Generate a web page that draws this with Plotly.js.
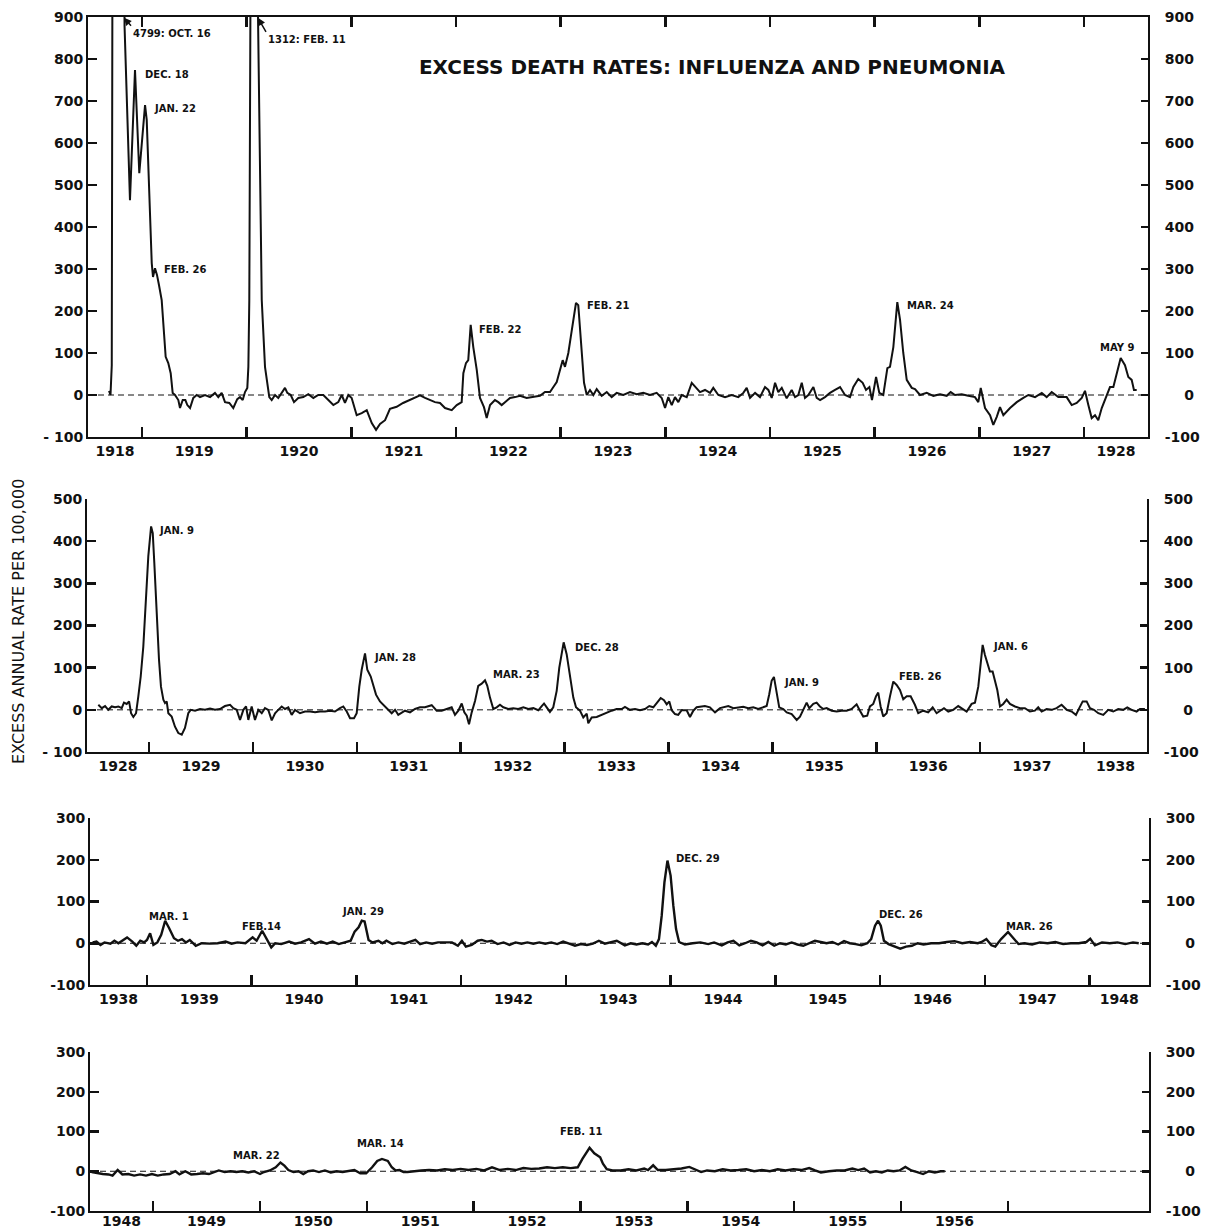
<!DOCTYPE html>
<html><head><meta charset="utf-8">
<script src="https://cdn.plot.ly/plotly-3.0.1.min.js"></script>
<style>html,body{margin:0;padding:0;background:#fff}#chart{width:1211px;height:1232px}</style>
</head><body><div id="chart"></div>
<script>
// ---------- DATA (decimal years, excess annual rate per 100,000) ----------
const p1Years = [
1918.685,1918.699,1918.711,1918.718,1918.737,1918.761,1918.790,1918.809,1918.833,1918.885,
1918.933,1918.974,1919.029,1919.045,1919.093,1919.105,1919.124,1919.143,1919.162,1919.188,
1919.226,1919.251,1919.274,1919.293,1919.315,1919.347,1919.363,1919.389,1919.414,1919.433,
1919.459,1919.490,1919.523,1919.554,1919.602,1919.650,1919.697,1919.729,1919.761,1919.793,
1919.834,1919.872,1919.910,1919.936,1919.962,1919.984,1920.006,1920.016,1920.025,1920.037,
1920.060,1920.084,1920.103,1920.144,1920.175,1920.191,1920.216,1920.239,1920.271,1920.302,
1920.335,1920.366,1920.388,1920.421,1920.452,1920.493,1920.541,1920.589,1920.637,1920.684,
1920.732,1920.780,1920.828,1920.875,1920.908,1920.939,1920.971,1921.003,1921.051,1921.099,
1921.147,1921.195,1921.236,1921.274,1921.322,1921.369,1921.433,1921.494,1921.551,1921.608,
1921.656,1921.704,1921.752,1921.799,1921.847,1921.895,1921.959,1922.007,1922.054,1922.070,
1922.095,1922.117,1922.140,1922.165,1922.198,1922.229,1922.267,1922.293,1922.325,1922.372,
1922.404,1922.436,1922.468,1922.516,1922.564,1922.611,1922.675,1922.738,1922.802,1922.850,
1922.898,1922.930,1922.962,1922.994,1923.019,1923.041,1923.073,1923.096,1923.121,1923.146,
1923.168,1923.191,1923.223,1923.249,1923.280,1923.312,1923.344,1923.392,1923.440,1923.487,
1923.535,1923.598,1923.662,1923.726,1923.789,1923.853,1923.917,1923.965,1923.997,1924.028,
1924.061,1924.092,1924.124,1924.156,1924.204,1924.252,1924.293,1924.331,1924.379,1924.427,
1924.458,1924.506,1924.570,1924.634,1924.697,1924.745,1924.777,1924.809,1924.857,1924.904,
1924.952,1924.984,1925.016,1925.048,1925.079,1925.112,1925.159,1925.207,1925.239,1925.270,
1925.303,1925.334,1925.366,1925.414,1925.446,1925.478,1925.525,1925.573,1925.621,1925.669,
1925.716,1925.764,1925.796,1925.843,1925.885,1925.917,1925.949,1925.974,1926.013,1926.044,
1926.082,1926.121,1926.146,1926.178,1926.216,1926.242,1926.273,1926.306,1926.354,1926.385,
1926.433,1926.497,1926.560,1926.624,1926.688,1926.726,1926.767,1926.831,1926.894,1926.958,
1926.990,1927.013,1927.054,1927.102,1927.133,1927.166,1927.197,1927.229,1927.293,1927.357,
1927.420,1927.468,1927.532,1927.596,1927.643,1927.691,1927.754,1927.834,1927.882,1927.930,
1927.978,1928.009,1928.041,1928.073,1928.105,1928.136,1928.169,1928.217,1928.248,1928.280,
1928.312,1928.350,1928.391,1928.423,1928.455,1928.477,1928.503];
const p1Rates = [
10,0,70,1100,2600,4000,4799,2400,880,464,
774,528,690,655,314,281,302,286,262,226,
91,76,52,5,0,-12,-31,-12,-12,-24,
-31,-7,0,-5,0,-5,5,-5,5,-17,
-19,-31,-10,-5,-12,7,17,67,226,1000,
1200,1312,1000,226,67,40,-5,-12,0,-7,
5,17,5,0,-17,-7,-5,2,-7,0,
0,-12,-24,-17,0,-19,0,-7,-48,-43,
-36,-67,-83,-69,-60,-33,-28,-19,-12,-6,
-1,-7,-12,-17,-19,-31,-36,-24,-17,52,
76,83,167,114,60,-7,-29,-55,-24,-12,
-17,-24,-17,-7,-5,-2,-7,-5,-2,7,
7,19,31,60,83,67,100,138,179,219,
214,131,29,0,12,0,14,-2,7,-5,
5,0,7,2,5,0,5,-7,-31,-5,
-24,-5,-17,0,-5,29,17,7,12,5,
17,0,-5,0,-5,5,17,-7,5,-5,
19,12,-7,29,7,17,-8,12,-5,0,
29,-7,0,19,-7,-12,-5,5,12,19,
0,-5,19,38,29,12,19,-12,43,5,
0,64,67,114,221,179,100,36,17,14,
0,5,-2,2,-2,7,0,2,-2,-5,
-17,17,-31,-48,-71,-52,-29,-48,-31,-17,
-7,0,-5,5,-5,7,-5,-5,-24,-19,
-7,10,-24,-55,-48,-60,-31,0,19,19,
48,88,71,43,36,12,12];

const p2Years = [
1928.512,1928.545,1928.577,1928.608,1928.641,1928.673,1928.705,1928.737,1928.759,1928.785,
1928.808,1928.827,1928.849,1928.875,1928.897,1928.920,1928.945,1928.971,1928.993,1929.020,
1929.036,1929.051,1929.074,1929.096,1929.115,1929.138,1929.154,1929.170,1929.186,1929.218,
1929.250,1929.282,1929.315,1929.346,1929.378,1929.401,1929.443,1929.491,1929.539,1929.587,
1929.635,1929.683,1929.731,1929.780,1929.811,1929.844,1929.876,1929.908,1929.934,1929.956,
1929.988,1930.020,1930.052,1930.085,1930.116,1930.148,1930.181,1930.213,1930.244,1930.277,
1930.309,1930.341,1930.373,1930.405,1930.453,1930.501,1930.550,1930.598,1930.646,1930.694,
1930.742,1930.790,1930.838,1930.870,1930.903,1930.935,1930.973,1930.999,1931.024,1931.047,
1931.079,1931.101,1931.134,1931.166,1931.185,1931.223,1931.271,1931.303,1931.336,1931.368,
1931.399,
1931.464,1931.512,1931.560,1931.608,1931.656,1931.721,1931.769,1931.817,1931.865,1931.913,
1931.945,1931.977,1932.010,1932.035,1932.058,1932.080,1932.106,1932.138,1932.169,1932.202,
1932.234,1932.256,1932.282,1932.314,1932.346,1932.378,1932.410,1932.458,1932.506,1932.554,
1932.603,1932.651,1932.699,1932.747,1932.780,1932.802,1932.828,1932.859,1932.891,1932.924,
1932.949,1932.975,1932.991,1933.020,1933.052,1933.084,1933.110,1933.148,1933.180,1933.213,
1933.228,1933.261,1933.309,1933.357,1933.405,1933.453,1933.501,1933.550,1933.581,1933.629,
1933.678,1933.726,1933.774,1933.815,1933.854,1933.886,1933.925,1933.957,1933.983,1934.008,
1934.031,1934.063,1934.094,1934.127,1934.175,1934.207,1934.239,1934.271,1934.303,1934.351,
1934.399,1934.448,1934.496,1934.544,1934.576,1934.624,1934.672,1934.720,1934.768,1934.816,
1934.864,1934.912,1934.945,1934.970,1934.993,1935.015,1935.041,1935.066,1935.105,1935.138,
1935.186,
1935.234,1935.266,1935.297,1935.330,1935.355,1935.394,1935.426,1935.458,1935.490,1935.523,
1935.571,1935.619,1935.667,1935.715,1935.763,1935.811,1935.843,1935.875,1935.913,1935.939,
1935.971,1935.997,1936.019,1936.042,1936.067,1936.100,1936.132,1936.164,1936.196,1936.228,
1936.260,1936.293,1936.331,1936.372,1936.404,1936.452,1936.500,1936.543,1936.581,1936.613,
1936.652,1936.693,1936.741,1936.789,1936.822,1936.870,1936.918,1936.950,1936.982,1937.005,
1937.024,1937.046,1937.068,1937.094,1937.120,1937.142,1937.165,1937.191,1937.222,1937.255,
1937.287,1937.335,1937.383,1937.431,1937.479,1937.527,1937.559,1937.592,1937.640,1937.688,
1937.736,1937.784,1937.833,1937.881,1937.922,1937.954,1937.987,1938.025,1938.057,1938.095,
1938.137,1938.185,1938.233,1938.281,1938.329,1938.377,1938.416,1938.458,1938.506,1938.538,
1938.586];
const p2Rates = [
12,4,9,0,8,6,8,4,17,14,
20,-8,-17,-8,32,79,150,253,364,435,
419,348,229,119,55,24,16,20,-8,-16,
-40,-55,-59,-43,-8,0,-2,2,0,3,
0,2,9,12,4,0,-24,0,8,-24,
8,-24,0,-8,4,0,-25,-8,0,8,
2,6,-12,0,-8,-4,-4,-6,-4,-4,
-2,-4,4,8,-4,-20,-20,-8,55,95,
134,95,79,55,36,20,8,0,-8,0,
-12,
-2,-6,2,6,6,11,-2,-2,2,6,
-12,-2,15,-6,-14,-34,-6,21,57,62,
70,57,29,2,6,12,6,2,4,2,
6,2,4,-1,9,15,6,-5,6,45,
100,140,160,132,77,29,6,-2,-18,-9,
-32,-18,-17,-12,-6,-2,2,2,7,0,
2,-1,2,9,6,15,28,23,13,20,
-1,-10,-12,-1,-1,-17,-2,6,7,9,
6,-6,4,6,9,4,6,7,4,6,
2,6,9,37,69,78,45,6,2,-6,
-10,
-24,-16,0,17,4,14,17,8,2,4,
-2,-4,-2,-2,2,13,-2,-16,-14,8,
14,32,41,8,-16,-8,32,67,59,47,
25,32,32,12,-8,-2,-6,6,-8,-2,
4,-4,0,9,4,-4,14,17,55,115,
154,130,111,91,91,71,47,8,14,24,
14,8,4,4,-4,-2,6,-4,2,0,
4,12,0,-4,-12,4,20,20,4,0,
-8,-12,0,-4,2,0,6,0,-4,2,
2];

const p3Years = [
1938.481,1938.518,1938.556,1938.594,1938.651,1938.689,1938.727,1938.773,1938.810,1938.860,
1938.898,1938.936,1938.973,1939.000,1939.030,1939.061,1939.099,1939.136,1939.174,1939.212,
1939.258,1939.296,1939.334,1939.372,1939.409,1939.466,1939.523,1939.599,1939.675,1939.751,
1939.808,1939.864,1939.940,1940.009,1940.047,1940.100,1940.137,1940.187,1940.225,1940.282,
1940.357,1940.414,1940.471,1940.547,1940.604,1940.661,1940.718,1940.774,1940.831,1940.888,
1940.945,1940.983,1941.021,1941.051,1941.078,1941.116,1941.154,1941.210,1941.248,1941.286,
1941.343,1941.400,1941.457,1941.514,1941.563,1941.608,1941.665,1941.722,1941.779,1941.836,
1941.912,1941.969,1942.007,1942.045,1942.101,1942.158,1942.196,1942.246,1942.291,1942.348,
1942.405,1942.462,1942.519,1942.576,1942.632,1942.689,1942.746,1942.803,1942.860,1942.917,
1942.974,1943.031,1943.087,1943.144,1943.201,1943.258,1943.315,1943.372,1943.429,1943.486,
1943.563,1943.619,1943.674,1943.730,1943.785,1943.822,1943.859,1943.889,1943.915,1943.941,
1943.970,1944.000,1944.026,1944.052,1944.081,1944.137,1944.211,1944.285,1944.359,1944.415,
1944.489,1944.544,1944.600,1944.656,1944.711,1944.767,1944.822,1944.878,1944.933,1944.989,
1945.044,1945.100,1945.156,1945.211,1945.267,1945.322,1945.378,1945.433,1945.489,1945.544,
1945.600,1945.656,1945.711,1945.767,1945.822,1945.878,1945.915,1945.952,1945.981,1946.007,
1946.037,1946.081,1946.137,1946.193,1946.248,1946.304,1946.359,1946.415,1946.489,1946.563,
1946.637,1946.711,1946.785,1946.859,1946.933,1946.970,1947.015,1947.063,1947.100,1947.156,
1947.222,1947.267,1947.322,1947.378,1947.452,1947.526,1947.600,1947.674,1947.748,1947.822,
1947.896,1947.970,1948.007,1948.052,1948.119,1948.193,1948.267,1948.341,1948.415,1948.470];
const p3Rates = [
2,4,-4,2,-1,6,0,8,14,4,
-6,6,2,8,24,-4,2,20,54,36,
12,6,10,2,8,-6,0,-1,0,4,
-1,2,0,14,6,30,12,-10,0,-2,
4,-1,2,10,-1,4,-1,4,-2,2,
6,28,38,54,52,8,2,6,0,6,
-2,2,-1,4,8,-2,2,-1,2,2,
2,-6,6,-8,-4,6,8,4,6,-2,
2,-4,2,-1,2,-1,2,-1,2,-2,
4,-1,-6,-2,-4,-1,6,-1,2,6,
-5,0,-3,0,-3,3,-6,10,66,146,
198,162,90,34,3,-3,0,2,-2,2,
-5,2,6,-5,0,6,2,-5,3,-6,
0,-3,2,-3,-6,0,6,3,0,3,
-3,5,0,-2,-5,0,10,42,54,42,
6,-2,-8,-13,-8,-6,0,-3,0,0,
3,5,0,3,0,3,10,-5,-8,10,
27,14,-2,0,-3,2,0,3,-2,0,
0,3,11,-5,2,0,2,-2,2,0];

const p4Years = [
1948.426,1948.474,1948.529,1948.584,1948.621,1948.669,1948.713,1948.768,1948.823,1948.879,
1948.934,1948.989,1949.044,1949.099,1949.155,1949.210,1949.247,1949.302,1949.357,1949.412,
1949.467,1949.523,1949.578,1949.615,1949.670,1949.725,1949.780,1949.835,1949.891,1949.946,
1950.001,1950.038,1950.093,1950.148,1950.192,1950.229,1950.266,1950.314,1950.362,1950.406,
1950.450,1950.498,1950.553,1950.608,1950.663,1950.718,1950.774,1950.829,1950.884,1950.939,
1950.994,1951.050,1951.098,1951.142,1951.197,1951.234,1951.270,1951.307,1951.344,1951.381,
1951.436,1951.510,1951.583,1951.657,1951.730,1951.804,1951.878,1951.951,1952.025,1952.098,
1952.172,1952.245,1952.319,1952.393,1952.466,1952.540,1952.613,1952.687,1952.760,1952.834,
1952.908,1952.974,1953.018,1953.085,1953.129,1953.184,1953.210,1953.246,1953.301,1953.375,
1953.449,1953.522,1953.596,1953.632,1953.680,1953.724,1953.798,1953.871,1953.945,1954.018,
1954.074,1954.129,1954.184,1954.257,1954.331,1954.404,1954.478,1954.551,1954.625,1954.699,
1954.772,1954.846,1954.919,1954.993,1955.066,1955.140,1955.195,1955.250,1955.324,1955.397,
1955.471,1955.544,1955.599,1955.654,1955.710,1955.765,1955.820,1955.875,1955.930,1955.985,
1956.040,1956.096,1956.151,1956.206,1956.261,1956.316,1956.371,1956.408];
const p4Rates = [
-2,-5,-7,-8,-11,3,-8,-7,-11,-8,
-11,-7,-11,-8,-7,0,-8,0,-8,-7,
-5,-7,-2,2,-2,0,-2,0,-3,0,
-7,-2,2,10,22,14,3,-2,0,-7,
0,2,-2,2,-3,0,-2,0,3,-5,
-5,10,26,31,26,10,2,3,-2,-2,
0,2,3,2,5,3,6,3,6,2,
10,3,6,3,8,6,7,10,8,10,
8,10,31,59,45,35,19,5,2,2,
5,2,7,3,15,3,3,5,7,11,
5,-2,2,0,5,2,3,5,0,3,
0,5,2,5,3,8,2,-3,0,2,
2,7,3,7,-3,0,-3,2,0,2,
11,2,-2,-7,0,-3,0,0];

// year labels (centred in each year) and year-boundary tick marks
const p1LabelYears = [1918,1919,1920,1921,1922,1923,1924,1925,1926,1927,1928];
const p1TickYears  = [1919,1920,1921,1922,1923,1924,1925,1926,1927,1928];
const p2LabelYears = [1928,1929,1930,1931,1932,1933,1934,1935,1936,1937,1938];
const p2TickYears  = [1929,1930,1931,1932,1933,1934,1935,1936,1937,1938];
const p3LabelYears = [1938,1939,1940,1941,1942,1943,1944,1945,1946,1947,1948];
const p3TickYears  = [1939,1940,1941,1942,1943,1944,1945,1946,1947,1948];
const p4LabelYears = [1948,1949,1950,1951,1952,1953,1954,1955,1956];
const p4TickYears  = [1949,1950,1951,1952,1953,1954,1955,1956,1957];

const FS = '\u2007'; // figure space, keeps right-hand labels right-aligned
const p1YTicks = [-100,0,100,200,300,400,500,600,700,800,900];
const p1YLeftText  = ['- 100','0','100','200','300','400','500','600','700','800','900'];
const p1YRightText = ['-100',FS+FS+'0','100','200','300','400','500','600','700','800','900'];
const p2YTicks = [-100,0,100,200,300,400,500];
const p2YLeftText  = ['- 100','0','100','200','300','400','500'];
const p2YRightText = ['-100',FS+FS+'0','100','200','300','400','500'];
const p34YTicks = [-100,0,100,200,300];
const p34YLeftText  = ['-100','0','100','200','300'];
const p34YRightText = ['-100',FS+FS+'0','100','200','300'];

// ---------- STYLE / LAYOUT ----------
const FONT = 'DejaVu Sans';
const BLACK = '#111';
const tickFont = {family: FONT, size: 14, color: BLACK, weight: 700};
const yearFont = {family: FONT, size: 14, color: BLACK, weight: 700};

const panels = [
  {xs:p1Years, ys:p1Rates, xd:[88/1211,1148/1211], yd:[1-437/1232,1-17/1232], xr:[1918.484,1928.611], yr:[-100,900],
   labels:p1LabelYears, ticks:p1TickYears, yt:p1YTicks, ytl:p1YLeftText, ytr:p1YRightText, mirror:true, lw:2, so:4},
  {xs:p2Years, ys:p2Rates, xd:[87/1211,1147/1211], yd:[1-752/1232,1-499/1232], xr:[1928.403,1938.606], yr:[-100,500],
   labels:p2LabelYears, ticks:p2TickYears, yt:p2YTicks, ytl:p2YLeftText, ytr:p2YRightText, mirror:false, lw:2, so:4},
  {xs:p3Years, ys:p3Rates, xd:[90/1211,1149/1211], yd:[1-985/1232,1-818/1232], xr:[1938.456,1948.568], yr:[-100,300],
   labels:p3LabelYears, ticks:p3TickYears, yt:p34YTicks, ytl:p34YLeftText, ytr:p34YRightText, mirror:false, lw:2.4, so:4},
  {xs:p4Years, ys:p4Rates, xd:[90/1211,1149/1211], yd:[1-1211/1232,1-1052/1232], xr:[1948.41,1958.32], yr:[-100,300],
   labels:p4LabelYears, ticks:p4TickYears, yt:p34YTicks, ytl:p34YLeftText, ytr:p34YRightText, mirror:false, lw:2.4, so:0}
];

const data = [];
const layout = {
  width: 1211, height: 1232, margin: {l:0, r:0, t:0, b:0},
  paper_bgcolor: '#fff', plot_bgcolor: 'rgba(0,0,0,0)', showlegend: false,
  title: {text: 'EXCESS DEATH RATES: INFLUENZA AND PNEUMONIA', x: 712/1211, y: 1-67/1232,
          xanchor: 'center', yanchor: 'middle', font: {family: FONT, size: 20, color: BLACK, weight: 700}},
  shapes: [], annotations: []
};

panels.forEach((p, i) => {
  const n = i + 1;
  const xId = n === 1 ? 'x' : 'x' + n;          // tick-mark axis
  const xLabN = n + 4, xLabId = 'x' + xLabN;     // year-label axis (overlay)
  const yL = 2*n - 1, yR = 2*n;
  const yLId = yL === 1 ? 'y' : 'y' + yL;
  const yRId = 'y' + yR;
  data.push({type:'scatter', mode:'lines', x:p.xs, y:p.ys, xaxis:xId, yaxis:yLId,
             line:{color:BLACK, width:p.lw}, hoverinfo:'skip'});
  // carrier trace so the overlay axes (year labels, right-hand scale) get drawn; it draws nothing
  data.push({type:'scatter', mode:'lines', x:[p.xr[0]], y:[null], xaxis:xLabId, yaxis:yRId, hoverinfo:'skip'});
  const mids = p.labels.map(y => (Math.max(y, p.xr[0]) + Math.min(y + 1, p.xr[1])) / 2);
  layout['xaxis' + (n === 1 ? '' : n)] = {
    domain: p.xd, range: p.xr, anchor: yLId, showline: true, linewidth: 2, linecolor: BLACK,
    mirror: p.mirror ? 'ticks' : false, showgrid: false, zeroline: false, fixedrange: true,
    tickmode: 'array', tickvals: p.ticks, showticklabels: false,
    ticks: 'inside', ticklen: 10, tickwidth: 2.5, tickcolor: BLACK
  };
  layout['xaxis' + xLabN] = {
    overlaying: xId, range: p.xr, anchor: yLId, side: 'bottom', showline: false, showgrid: false,
    zeroline: false, fixedrange: true, tickmode: 'array', tickvals: mids, ticktext: p.labels.map(String),
    ticks: '', tickfont: yearFont, ticklabelstandoff: p.so
  };
  layout['yaxis' + (yL === 1 ? '' : yL)] = {
    domain: p.yd, range: p.yr, anchor: xId, side: 'left', showline: true, linewidth: 2, linecolor: BLACK,
    showgrid: false, zeroline: false, fixedrange: true, tickmode: 'array', tickvals: p.yt, ticktext: p.ytl,
    ticks: 'inside', ticklen: 9, tickwidth: 2.5, tickcolor: BLACK, tickfont: tickFont
  };
  layout['yaxis' + yR] = {
    overlaying: yLId, range: p.yr, anchor: xId, side: 'right', showline: true, linewidth: 2, linecolor: BLACK,
    showgrid: false, zeroline: false, fixedrange: true, tickmode: 'array', tickvals: p.yt, ticktext: p.ytr,
    ticks: 'inside', ticklen: 7, tickwidth: 2.5, tickcolor: BLACK, tickfont: tickFont, ticklabelstandoff: 12
  };
  layout.shapes.push({type:'line', xref: xId + ' domain', yref: yLId, x0: 0, x1: 1, y0: 0, y1: 0,
                      line:{color: BLACK, width: 1, dash: '6px,4px'}, layer: 'below'});
});

function note(xref, yref, x, y, text) {
  return {xref, yref, x, y, text, showarrow: false, xanchor: 'left', yanchor: 'middle',
          font: {family: FONT, size: 10, color: BLACK, weight: 700}};
}
function arrowNote(xref, yref, x, y, text, ax, ay) {
  return {xref, yref, x, y, text, showarrow: true, ax, ay, axref: 'pixel', ayref: 'pixel',
          xanchor: 'left', yanchor: 'top', arrowhead: 2, arrowsize: 1, arrowwidth: 1.5, arrowcolor: BLACK,
          font: {family: FONT, size: 10, color: BLACK, weight: 700}};
}
layout.annotations.push(
  arrowNote('x','y', 1918.828, 898, '4799: OCT. 16', 7, 8),
  arrowNote('x','y', 1920.108, 898, '1312: FEB. 11', 8, 14),
  note('x','y', 1919.010, 764, 'DEC. 18'),
  note('x','y', 1919.096, 683, 'JAN. 22'),
  note('x','y', 1919.191, 298, 'FEB. 26'),
  note('x','y', 1922.200, 157, 'FEB. 22'),
  note('x','y', 1923.232, 212, 'FEB. 21'),
  note('x','y', 1926.290, 212, 'MAR. 24'),
  note('x','y', 1928.133, 112, 'MAY 9'),
  note('x2','y3', 1929.077, 426, 'JAN. 9'),
  note('x2','y3', 1931.146, 123, 'JAN. 28'),
  note('x2','y3', 1932.292, 83, 'MAR. 23'),
  note('x2','y3', 1933.081, 149, 'DEC. 28'),
  note('x2','y3', 1935.092, 64, 'JAN. 9'),
  note('x2','y3', 1936.199, 78, 'FEB. 26'),
  note('x2','y3', 1937.104, 151, 'JAN. 6'),
  note('x3','y5', 1939.000, 65, 'MAR. 1'),
  note('x3','y5', 1939.887, 41, 'FEB.14'),
  note('x3','y5', 1940.842, 77, 'JAN. 29'),
  note('x3','y5', 1944.029, 204, 'DEC. 29'),
  note('x3','y5', 1945.966, 70, 'DEC. 26'),
  note('x3','y5', 1947.187, 41, 'MAR. 26'),
  note('x4','y7', 1949.730, 39, 'MAR. 22'),
  note('x4','y7', 1950.890, 71, 'MAR. 14'),
  note('x4','y7', 1952.789, 101, 'FEB. 11'),
  {xref:'paper', yref:'paper', x: 18/1211, y: 1-622/1232, text: 'EXCESS ANNUAL RATE PER 100,000',
   textangle: -90, showarrow: false, xanchor: 'center', yanchor: 'middle',
   font: {family: FONT, size: 16, color: BLACK}}
);

Plotly.newPlot('chart', data, layout, {staticPlot: true, displayModeBar: false});
</script>
</body></html>
